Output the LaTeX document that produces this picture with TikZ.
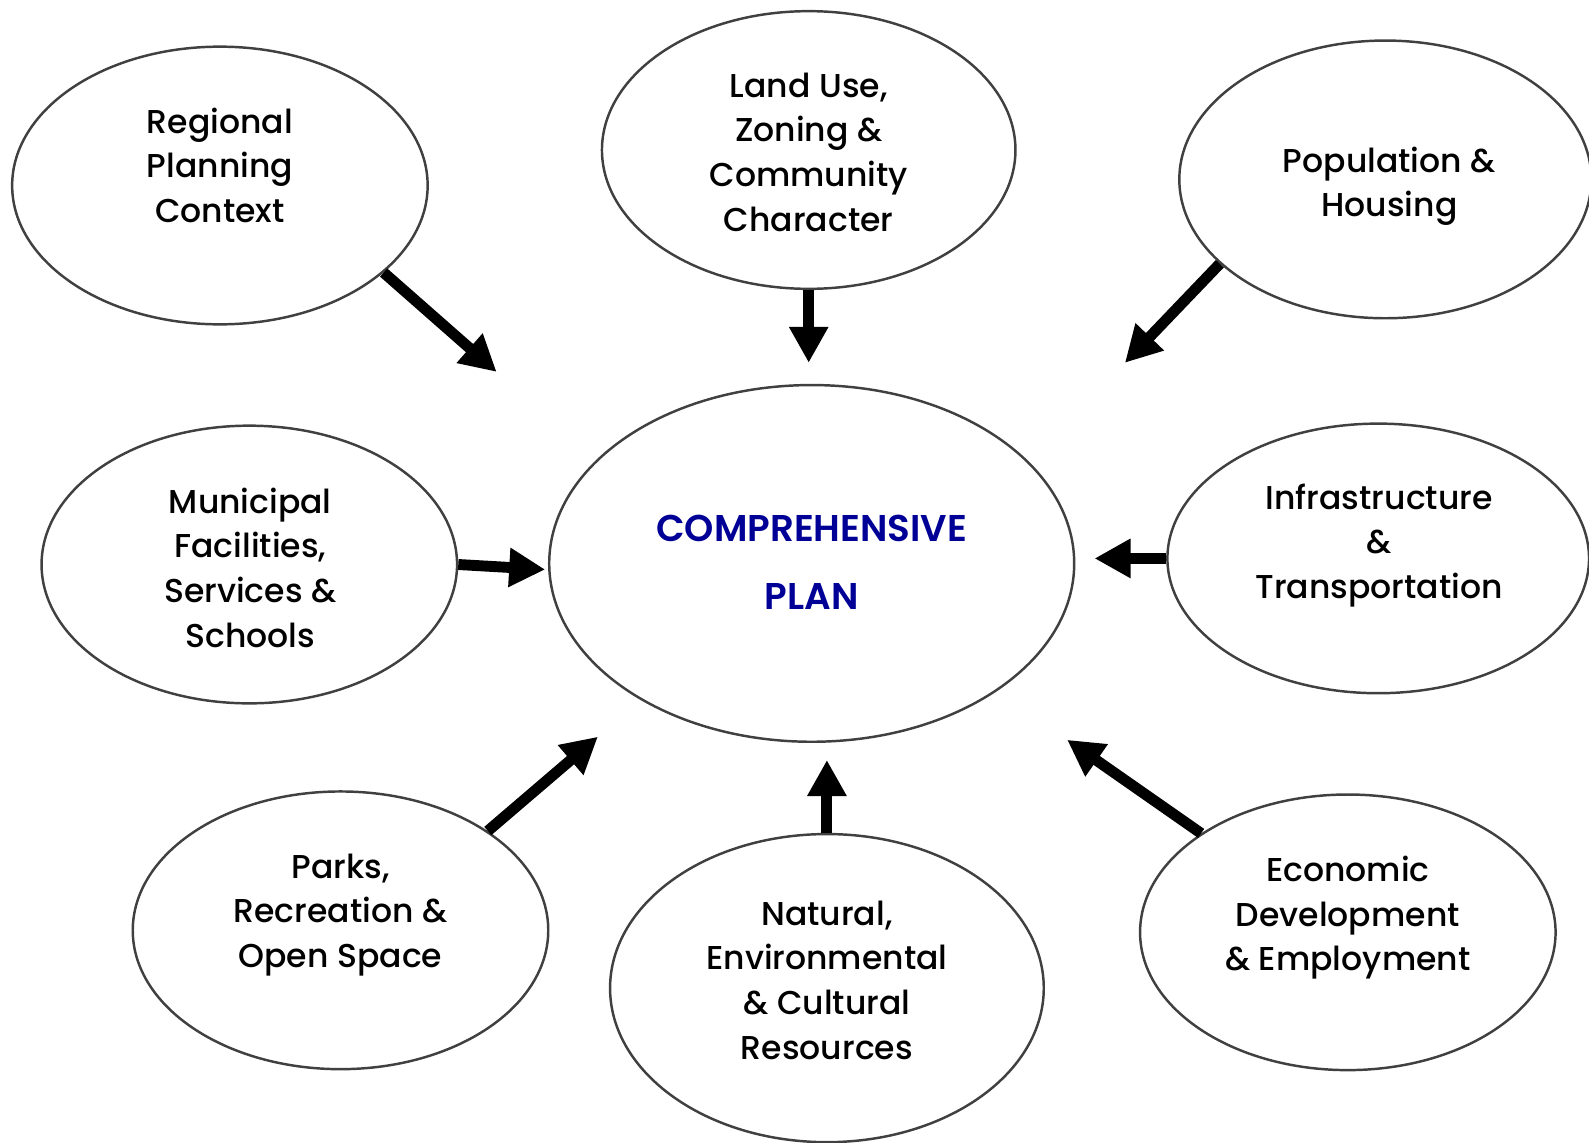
\documentclass[tikz,border=0pt]{standalone}
\usepackage{fontspec}
\setmainfont{Poppins}[UprightFont={* Medium},BoldFont={* SemiBold}]
\usetikzlibrary{shapes.geometric,arrows.meta}
\definecolor{planblue}{RGB}{0,0,150}
\definecolor{rim}{RGB}{64,64,64}

\begin{document}
\begin{tikzpicture}[
	bubble/.style={draw=rim,line width=0.7pt,ellipse,inner sep=0pt,minimum width=4.155cm,minimum height=2.777cm},
	words/.style={align=center,font=\fontsize{9.4}{12.7}\selectfont},
	flow/.style={line width=3.1pt,-{Triangle[length=0.36cm,width=0.37cm]}}
]
	\useasboundingbox (0,0) rectangle (15.89,11.42);
	% the plan in the middle
	\node[bubble,minimum width=5.25cm,minimum height=3.567cm] (plan) at (8.117,5.786) {};
	\node[align=center,text=planblue,font=\fontsize{10.6}{19.3}\selectfont\bfseries] (plantxt) at (8.117,5.796) {COMPREHENSIVE\\PLAN};
	% the elements round it
	\node[bubble] (reg) at (2.199,9.565) {};
	\node[words] (regtxt) at (2.199,9.768) {Regional\\Planning\\Context};
	\node[bubble,minimum width=4.135cm] (land) at (8.087,9.920) {};
	\node[words] (landtxt) at (8.087,9.900) {Land Use,\\Zoning \&\\Community\\Character};
	\node[bubble,minimum width=4.12cm] (pop) at (13.853,9.626) {};
	\node[words] (poptxt) at (13.894,9.556) {Population \&\\Housing};
	\node[bubble] (muni) at (2.493,5.775) {};
	\node[words] (munitxt) at (2.503,5.745) {Municipal\\Facilities,\\Services \&\\Schools};
	\node[bubble,minimum width=4.216cm,minimum height=2.696cm] (infra) at (13.782,5.836) {};
	\node[words] (infratxt) at (13.792,5.968) {Infrastructure\\\&\\Transportation};
	\node[bubble] (parks) at (3.405,2.117) {};
	\node[words] (parkstxt) at (3.405,2.270) {Parks,\\Recreation \&\\Open Space};
	\node[bubble,minimum width=4.337cm,minimum height=3.081cm] (nat) at (8.269,1.539) {};
	\node[words] (nattxt) at (8.269,1.620) {Natural,\\Environmental\\\& Cultural\\Resources};
	\node[bubble,minimum height=2.756cm] (econ) at (13.478,2.097) {};
	\node[words] (econtxt) at (13.478,2.244) {Economic\\Development\\\& Employment};
	% arrow ends
	\coordinate (regend) at (4.966,7.701);
	\coordinate (landend) at (8.087,7.792);
	\coordinate (popend) at (11.249,7.792);
	\coordinate (muniend) at (5.452,5.725);
	\coordinate (infraend) at (10.945,5.836);
	\coordinate (parksend) at (5.979,4.053);
	\coordinate (natend) at (8.269,3.820);
	\coordinate (econend) at (10.671,4.022);
	% arrows
	\draw[flow] (reg.-28) -- (regend);
	\draw[flow] (land.south) -- (landend);
	\draw[flow] (pop.-153) -- (popend);
	\draw[flow] (muni.east) -- (muniend);
	\draw[flow] (infra.west) -- (infraend);
	\draw[flow] (parks.34) -- (parksend);
	\draw[flow] (nat.north) -- (natend);
	\draw[flow] (econ.146) -- (econend);
\end{tikzpicture}
\end{document}
